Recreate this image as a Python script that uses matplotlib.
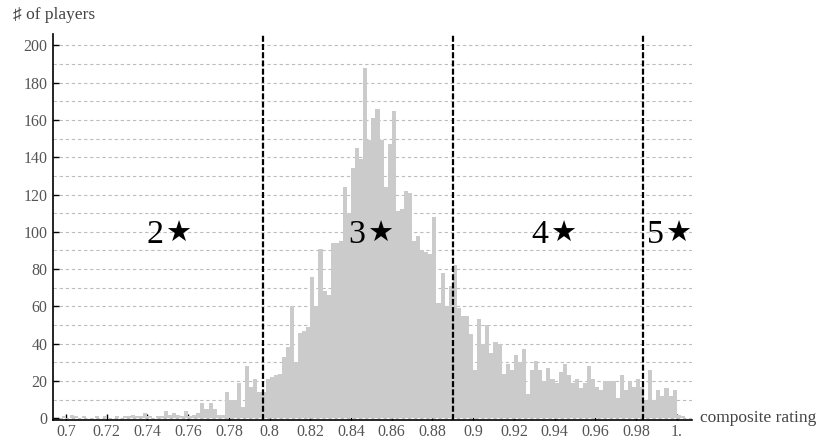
import numpy as np
import matplotlib
matplotlib.use("Agg")
import matplotlib.pyplot as plt
from matplotlib.ticker import MultipleLocator

# histogram of composite ratings, bins of 0.002 starting at 0.698
BIN_START = 0.698
BIN_WIDTH = 0.002
counts = [
    1, 0, 2, 1, 0, 1, 0, 0, 1, 0,
    1, 0, 0, 1, 0, 1, 1, 2, 1, 1,
    3, 1, 0, 1, 1, 4, 2, 3, 2, 1,
    4, 1, 2, 3, 8, 5, 8, 5, 2, 2,
    14, 10, 10, 19, 6, 28, 17, 21, 14, 14,
    21, 22, 23, 24, 33, 38, 60, 30, 46, 47,
    49, 76, 60, 91, 68, 66, 94, 94, 95, 124,
    110, 134, 145, 139, 188, 149, 161, 166, 149, 124,
    147, 165, 111, 112, 122, 121, 95, 98, 90, 89,
    88, 108, 62, 78, 60, 71, 82, 59, 55, 55,
    45, 26, 53, 40, 50, 35, 41, 40, 24, 29,
    26, 34, 30, 37, 13, 26, 31, 26, 20, 27,
    21, 19, 25, 29, 23, 19, 21, 16, 19, 28,
    21, 17, 15, 20, 20, 20, 11, 23, 15, 20,
    17, 21, 17, 10, 26, 10, 15, 12, 16, 12,
    15, 2, 1,
]

thresholds = [0.797, 0.89, 0.9834]
star_numbers = ["2", "3", "4", "5"]
star_x = [0.7485, 0.8478, 0.9377, 0.9942]
star_y = 94

x_ticks = [0.70, 0.72, 0.74, 0.76, 0.78, 0.80, 0.82, 0.84,
           0.86, 0.88, 0.90, 0.92, 0.94, 0.96, 0.98, 1.00]
x_tick_labels = ["0.7", "0.72", "0.74", "0.76", "0.78", "0.8", "0.82", "0.84",
                 "0.86", "0.88", "0.9", "0.92", "0.94", "0.96", "0.98", "1."]
y_ticks = list(range(0, 201, 20))

SERIF = ["Liberation Serif", "DejaVu Sans"]
plt.rcParams["font.family"] = SERIF

edges = BIN_START + BIN_WIDTH * np.arange(len(counts))

fig = plt.figure(figsize=(8.25, 4.44), dpi=100)
ax = fig.add_axes([53.3 / 825, 24 / 444, (692 - 53.3) / 825, (420 - 34.3) / 444])

ax.bar(edges, counts, width=BIN_WIDTH, align="edge", color="#cbcbcb",
       edgecolor="none", linewidth=0, zorder=2)

for t in thresholds:
    ax.axvline(t, color="black", lw=1.6, ls=(0, (2.7, 1.0)), zorder=3)

for num, xs in zip(star_numbers, star_x):
    ax.annotate(num, (xs, star_y), xytext=(-1, 0), textcoords="offset points",
                ha="right", va="baseline", fontsize=24.5, color="black",
                family="Liberation Serif", zorder=4)
    ax.annotate("\u2605", (xs, star_y), xytext=(0.5, 0.5), textcoords="offset points",
                ha="left", va="baseline", fontsize=21, color="black",
                family="DejaVu Sans", zorder=4)

ax.set_xlim(0.69376, 1.00751)
ax.set_ylim(-0.9, 205.9)

ax.set_xticks(x_ticks)
ax.set_xticklabels(x_tick_labels)
ax.set_yticks(y_ticks)
ax.yaxis.set_minor_locator(MultipleLocator(10))
ax.tick_params(axis="both", which="major", direction="in", length=4,
               width=1.0, color="black", labelsize=11.5, labelcolor="#555555")
ax.tick_params(axis="x", pad=3)
ax.tick_params(axis="y", pad=4)
ax.tick_params(axis="y", which="minor", length=0)

ax.grid(axis="y", which="both", color="#bdbdbd", lw=0.8, ls=(0, (3, 2.5)), zorder=1)
ax.set_axisbelow(True)

for side in ["top", "right"]:
    ax.spines[side].set_visible(False)
for side in ["left", "bottom"]:
    ax.spines[side].set_linewidth(1.2)
    ax.spines[side].set_color("black")

fig.text(13 / 825, 1 - 15 / 444, "\u266f of players", ha="left", va="center",
         fontsize=12.5, color="#444444")
fig.text(700 / 825, 1 - 418 / 444, "composite rating", ha="left", va="center",
         fontsize=12.5, color="#444444")

fig.savefig("out.png", dpi=100)
